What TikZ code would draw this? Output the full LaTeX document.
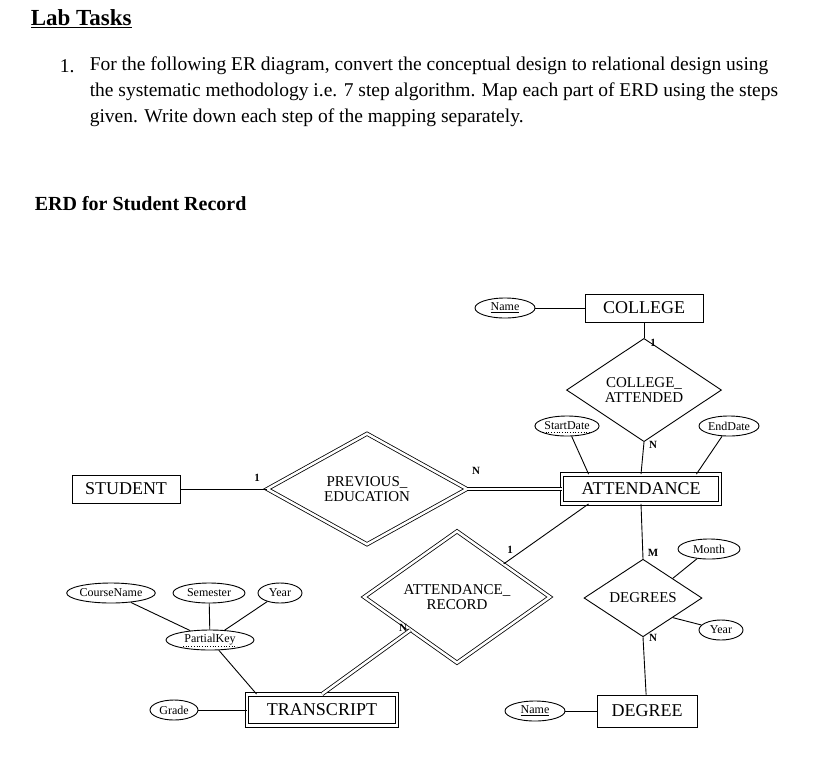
\documentclass[tikz,border=0pt]{standalone}
\usepackage{fontspec}
\setmainfont{Liberation Serif}
\usetikzlibrary{shapes.geometric}
\begin{document}
\begin{tikzpicture}[x=1pt,y=-1pt,line width=0.9pt,
  ent/.style={draw,rectangle,inner sep=0pt,font=\fontsize{18}{18}\selectfont},
  dent/.style={ent,double,double distance=2.5pt,line width=0.8pt},
  rel/.style={draw,diamond,inner sep=0pt,align=center,font=\fontsize{15}{15}\selectfont},
  drel/.style={rel,double,double distance=2.5pt,line width=0.8pt},
  attr/.style={draw,ellipse,inner sep=0pt,minimum height=20pt,font=\fontsize{12}{12}\selectfont},
  card/.style={font=\bfseries\fontsize{11}{11}\selectfont},
  dbl/.style={double,double distance=2.5pt,line width=0.8pt},
  dul/.style={dotted,line width=0.7pt},
  body/.style={anchor=west,font=\fontsize{19.5}{19.5}\selectfont}]
\useasboundingbox (0,0) rectangle (837,780);
\node[anchor=west,font=\bfseries\fontsize{23}{23}\selectfont] (title) at (27,19) {\underline{Lab Tasks}};
\node[body] (num) at (56,66) {1.};
\node[body] (l1) at (86,66) {For the following ER diagram, convert the conceptual design to relational design using};
\node[body] (l2) at (86,92) {the systematic methodology i.e. 7 step algorithm. Map each part of ERD using the steps};
\node[body] (l3) at (86,118) {given. Write down each step of the mapping separately.};
\node[anchor=west,font=\bfseries\fontsize{20}{20}\selectfont] (erd) at (31,204) {ERD for Student Record};

\node[ent,minimum width=118pt,minimum height=28pt] (college) at (644,308) {COLLEGE};
\node[attr,minimum width=60pt] (cname) at (505,308) {\underline{Name}};
\node[rel,minimum width=155pt,minimum height=82pt] (ca) at (644,390) {COLLEGE\_\\ATTENDED};
\node[attr,minimum width=62pt] (sd) at (567,426) {StartDate};
\node[attr,minimum width=60pt] (ed) at (729,426) {EndDate};
\node[dent,minimum width=158pt,minimum height=29pt] (att) at (641,489) {ATTENDANCE};
\node[ent,minimum width=108pt,minimum height=28pt] (student) at (126,489) {STUDENT};
\node[drel,minimum width=200pt,minimum height=104pt] (pe) at (367,489) {PREVIOUS\_\\EDUCATION};
\node[drel,minimum width=186pt,minimum height=112pt] (ar) at (457,597) {ATTENDANCE\_\\RECORD};
\node[rel,minimum width=118pt,minimum height=56pt] (deg) at (643,598) {DEGREES};
\node[attr,minimum width=62pt] (month) at (709,549) {Month};
\node[attr,minimum width=44pt] (dyear) at (721,630) {Year};
\node[ent,minimum width=100pt,minimum height=32pt] (degree) at (647,711) {DEGREE};
\node[attr,minimum width=60pt] (dname) at (535,711) {\underline{Name}};
\node[dent,minimum width=150pt,minimum height=31pt] (tr) at (322,710) {TRANSCRIPT};
\node[attr,minimum width=48pt] (grade) at (174,710) {Grade};
\node[attr,minimum width=88pt] (pk) at (210,640) {PartialKey};
\node[attr,minimum width=84pt] (cn) at (111,593) {CourseName};
\node[attr,minimum width=72pt] (sem) at (209,593) {Semester};
\node[attr,minimum width=44pt] (yr) at (280,593) {Year};

\draw[dul] ([xshift=-24pt,yshift=-6pt]sd.center) -- ([xshift=24pt,yshift=-6pt]sd.center);
\draw[dul] ([xshift=-27pt,yshift=-6pt]pk.center) -- ([xshift=27pt,yshift=-6pt]pk.center);

\draw (cname) -- (college);
\draw (college) -- (ca.north);
\draw (ca.south) -- (att.north);
\draw (sd) -- ([xshift=27pt]att.north west);
\draw (ed) -- ([xshift=-24pt]att.north east);
\draw (student) -- (pe.west);
\draw[dbl] (pe.east) -- (att.west);
\draw ([xshift=27pt]att.south west) -- (ar.north east);
\draw[dbl] (ar.south west) -- (tr.north);
\draw (att.south) -- (deg.north);
\draw (deg.north east) -- (month);
\draw (deg.south east) -- (dyear);
\draw (deg.south) -- (degree);
\draw (dname) -- (degree);
\draw (grade) -- (tr);
\draw (pk) -- ([xshift=10pt]tr.north west);
\draw (cn) -- (pk);
\draw (sem) -- (pk);
\draw (yr) -- (pk);

\node[card] (c1) at (653,343) {1};
\node[card] (c2) at (653,445) {N};
\node[card] (c3) at (257,478) {1};
\node[card] (c4) at (476,471) {N};
\node[card] (c5) at (510,550) {1};
\node[card] (c6) at (403,628) {N};
\node[card] (c7) at (653,553) {M};
\node[card] (c8) at (653,638) {N};
\end{tikzpicture}
\end{document}
